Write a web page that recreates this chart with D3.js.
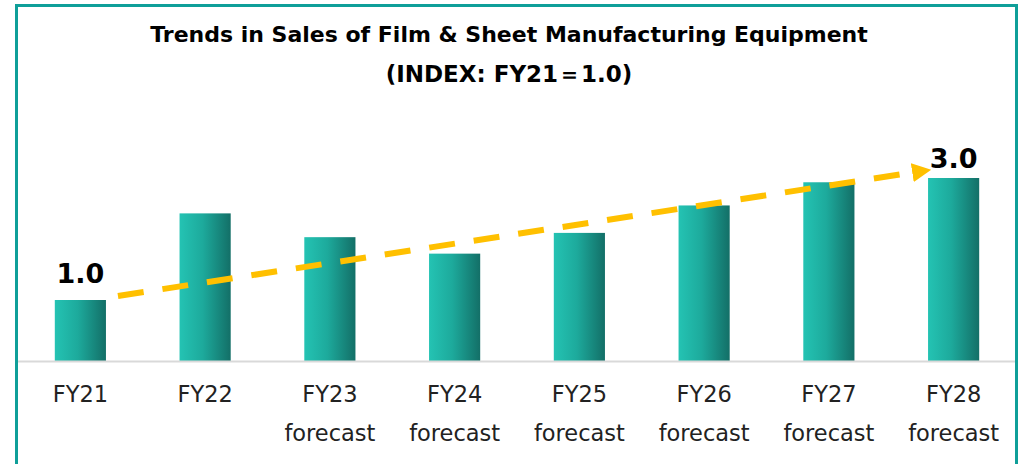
<!DOCTYPE html>
<html>
<head>
<meta charset="utf-8">
<script src="https://cdn.jsdelivr.net/npm/d3@7"></script>
<style>
  body { margin: 0; background: #fff; }
  text { font-family: "DejaVu Sans", Verdana, sans-serif; }
</style>
</head>
<body>
<script>
var W = 1022, H = 464;

var years = ['FY21', 'FY22', 'FY23', 'FY24', 'FY25', 'FY26', 'FY27', 'FY28'];
var subLabels = ['', '', 'forecast', 'forecast', 'forecast', 'forecast', 'forecast', 'forecast'];
var index = [1.0, 2.42, 2.03, 1.76, 2.1, 2.55, 2.93, 3.0];
var shownLabels = ['1.0', '', '', '', '', '', '', '3.0'];
var titleLines = ['Trends in Sales of Film & Sheet Manufacturing Equipment', '(INDEX: FY21\uff1d1.0)'];

var svg = d3.select('body').append('svg').attr('width', W).attr('height', H);

var defs = svg.append('defs');
var grad = defs.append('linearGradient').attr('id', 'barGrad')
  .attr('x1', '0%').attr('x2', '100%').attr('y1', '0%').attr('y2', '0%');
grad.append('stop').attr('offset', '0%').attr('stop-color', '#24c3b3');
grad.append('stop').attr('offset', '45%').attr('stop-color', '#1daa9c');
grad.append('stop').attr('offset', '100%').attr('stop-color', '#136f67');

var arrowHead = defs.append('marker').attr('id', 'arrowHead')
  .attr('viewBox', '0 0 10 10').attr('refX', 2).attr('refY', 5)
  .attr('markerWidth', 3.2).attr('markerHeight', 3.2).attr('orient', 'auto');
arrowHead.append('path').attr('d', 'M0,0 L10,5 L0,10 Z').attr('fill', '#ffc000');

// frame
svg.append('rect').attr('x', 16.5).attr('y', 5.5).attr('width', 1000).attr('height', 470)
  .attr('fill', 'none').attr('stroke', '#0f9f99').attr('stroke-width', 3);

// title
svg.selectAll('.title').data(titleLines).enter().append('text')
  .attr('class', 'title')
  .attr('x', 509).attr('y', function(d, i) { return 42 + i * 40; })
  .attr('text-anchor', 'middle')
  .attr('font-size', function(d, i) { return i ? 23 : 22; })
  .attr('font-weight', 'bold').attr('fill', '#000')
  .text(function(d) { return d; });

var baseY = 361;
var x = d3.scaleBand().domain(years).range([18, 1016]).paddingInner(0.59).paddingOuter(0.295);
var y = d3.scaleLinear().domain([0, 3]).range([baseY, baseY - 183]);

svg.selectAll('.bar').data(index).enter().append('rect')
  .attr('class', 'bar')
  .attr('x', function(d, i) { return x(years[i]); })
  .attr('y', function(d) { return y(d); })
  .attr('width', x.bandwidth())
  .attr('height', function(d) { return baseY - y(d); })
  .attr('fill', 'url(#barGrad)');

// baseline
svg.append('line').attr('x1', 18).attr('x2', 1015).attr('y1', baseY + 0.5).attr('y2', baseY + 0.5)
  .attr('stroke', '#d9d9d9').attr('stroke-width', 2);

// value labels
svg.selectAll('.val').data(index).enter().append('text')
  .attr('class', 'val')
  .attr('x', function(d, i) { return x(years[i]) + x.bandwidth() / 2; })
  .attr('y', function(d, i) { return y(d) - (i ? 10 : 17); })
  .attr('text-anchor', 'middle')
  .attr('font-size', 27).attr('font-weight', 'bold').attr('fill', '#000')
  .text(function(d, i) { return shownLabels[i]; });

// category labels
var cat = svg.selectAll('.cat').data(years).enter().append('text')
  .attr('class', 'cat')
  .attr('text-anchor', 'middle')
  .attr('font-size', 22.5).attr('fill', '#222');
cat.append('tspan')
  .attr('x', function(d) { return x(d) + x.bandwidth() / 2; })
  .attr('y', 402)
  .text(function(d) { return d; });
cat.append('tspan')
  .attr('x', function(d) { return x(d) + x.bandwidth() / 2; })
  .attr('y', 441)
  .text(function(d, i) { return subLabels[i]; });

// trend arrow from first bar to last bar
var first = 0, last = years.length - 1;
svg.append('line')
  .attr('x1', x(years[first]) + x.bandwidth() + 12)
  .attr('y1', y(index[first]) - 4)
  .attr('x2', x(years[last]) - 12)
  .attr('y2', y(index[last]) - 6)
  .attr('stroke', '#ffc000').attr('stroke-width', 6)
  .attr('stroke-dasharray', '26,19')
  .attr('marker-end', 'url(#arrowHead)');
</script>
</body>
</html>
